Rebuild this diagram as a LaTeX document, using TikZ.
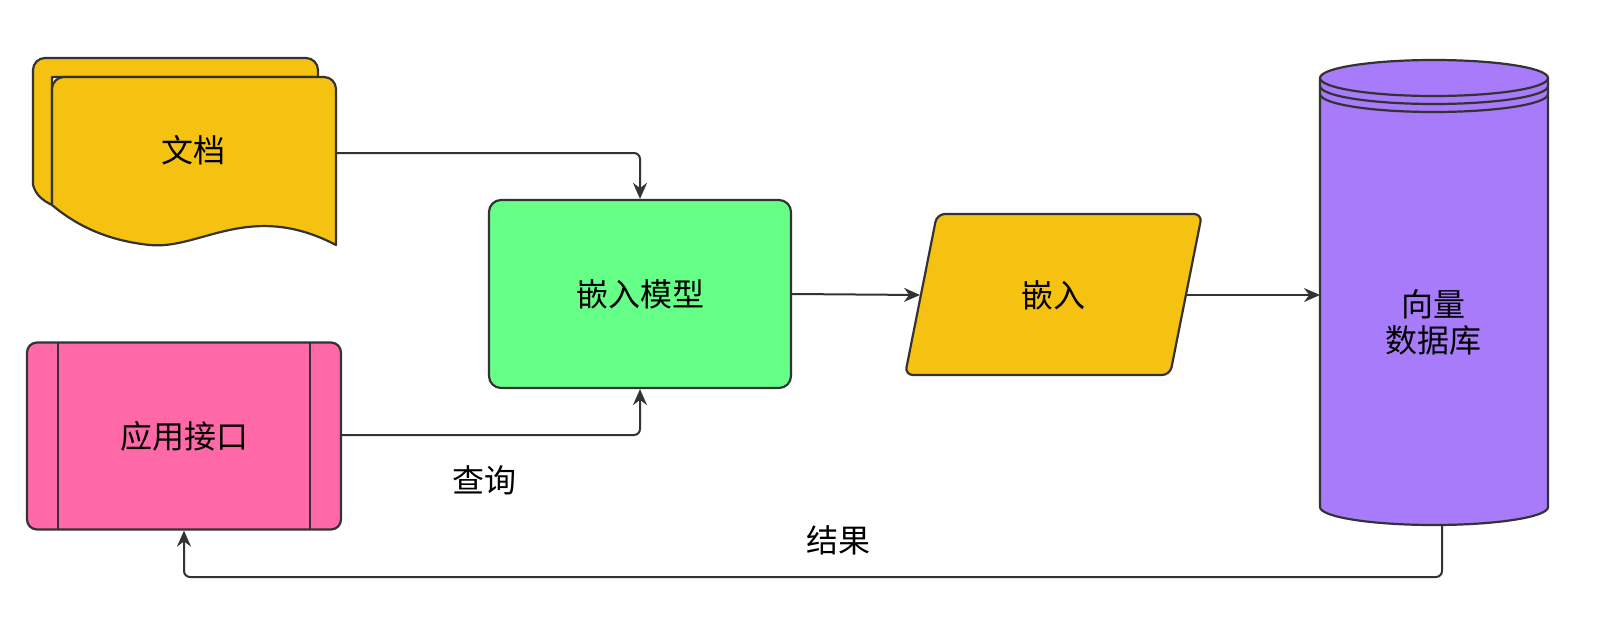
\documentclass[tikz,border=0pt]{standalone}
\usepackage{fontspec}
\setmainfont{Noto Sans CJK SC}
\usetikzlibrary{arrows.meta}
\definecolor{docy}{HTML}{F5C211}
\definecolor{modg}{HTML}{66FF88}
\definecolor{dbp}{HTML}{A77BFA}
\definecolor{appk}{HTML}{FF69A8}
\definecolor{ln}{HTML}{333333}
\begin{document}
\begin{tikzpicture}[x=1pt,y=-1pt,
  shp/.style={draw=ln,line width=2.2pt,line join=round},
  lbl/.style={font=\fontsize{32}{36}\selectfont,text=black},
  arr/.style={draw=ln,line width=2pt,-{Stealth[length=16pt,width=14pt]},rounded corners=6pt}]
\useasboundingbox (0,0) rectangle (1610,640);
% documents
\path[shp,fill=docy] (33,185) -- (33,70) arc[start angle=180,end angle=270,radius=12] -- (306,58) arc[start angle=-90,end angle=0,radius=12] -- (318,77) -- (52,77) -- (52,205) .. controls (42,200) and (36,195) .. (33,185) -- cycle;
\path[shp,fill=docy] (52,205) -- (52,89) arc[start angle=180,end angle=270,radius=12] -- (324,77) arc[start angle=-90,end angle=0,radius=12] -- (336,245) .. controls (250,200) and (200,250) .. (150,245) .. controls (100,240) and (70,220) .. (52,205) -- cycle;
\node[lbl] (doc) at (193,150) {文档};
\coordinate (docr) at (336,153);
% model
\node[shp,fill=modg,rounded corners=12pt,minimum width=302pt,minimum height=188pt,lbl] (model) at (640,294) {嵌入模型};
% embedding parallelogram
\path[shp,fill=docy,rounded corners=8pt] (937,214) -- (1202,214) -- (1170,375) -- (905,375) -- cycle;
\node[lbl] (emb) at (1053,295) {嵌入};
\coordinate (embl) at (920,295);
\coordinate (embr) at (1187,295);
% cylinder
\path[shp,fill=dbp] (1320,78) -- (1320,507) arc[start angle=180,end angle=0,x radius=114,y radius=18] -- (1548,78) arc[start angle=0,end angle=-180,x radius=114,y radius=18];
\draw[shp] (1320,78) arc[start angle=180,end angle=0,x radius=114,y radius=18];
\draw[shp] (1320,86) arc[start angle=180,end angle=0,x radius=114,y radius=18];
\draw[shp] (1320,94) arc[start angle=180,end angle=0,x radius=114,y radius=18];
\node[lbl,align=center] (db) at (1433,322) {向量\\数据库};
\coordinate (dbl) at (1320,295);
\coordinate (dbb) at (1442,525);
% app
\node[shp,fill=appk,rounded corners=10pt,minimum width=314pt,minimum height=187pt,lbl] (app) at (184,436) {应用接口};
\draw[shp] (58,343) -- (58,530) (310,343) -- (310,530);
% arrows
\draw[arr] (docr) -| (model.north);
\draw[arr] (app.east |- 0,435) -| (model.south);
\node[lbl] (q) at (484,480) {查询};
\draw[arr] (model.east) -- (embl);
\draw[arr] (embr) -- (dbl);
\draw[arr] (dbb) |- (800,577) -| (app.south);
\node[lbl] (r) at (838,540) {结果};
\end{tikzpicture}
\end{document}
